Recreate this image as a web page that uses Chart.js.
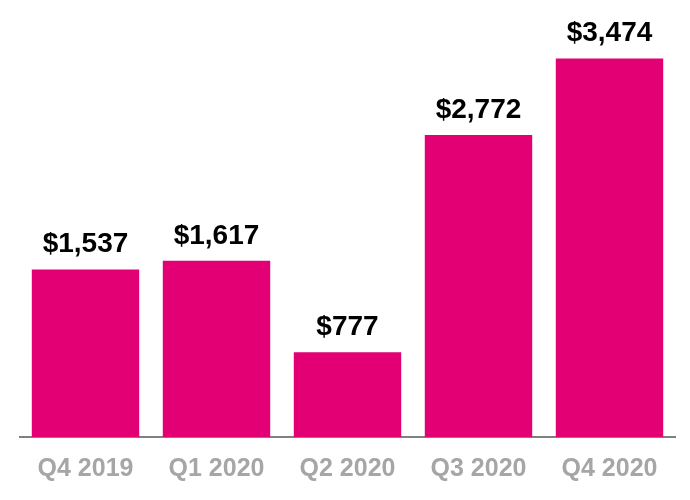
<!DOCTYPE html>
<html>
<head>
<meta charset="utf-8">
<script src="https://cdn.jsdelivr.net/npm/chart.js@4"></script>
<style>
  body { margin: 0; background: #fff; }
  #wrap { width: 690px; height: 500px; }
</style>
</head>
<body>
<div id="wrap"><canvas id="myChart" width="690" height="500"></canvas></div>
<script>
const quarters = ['Q4 2019', 'Q1 2020', 'Q2 2020', 'Q3 2020', 'Q4 2020'];
const values = [1537, 1617, 777, 2772, 3474];
const valueLabels = ['$1,537', '$1,617', '$777', '$2,772', '$3,474'];

// draws the $ amounts above each bar
const barLabels = {
    id: 'barLabels',
    afterDatasetsDraw(chart) {
        const ctx = chart.ctx;
        const meta = chart.getDatasetMeta(0);
        ctx.save();
        ctx.fillStyle = '#000';
        ctx.font = 'bold 28px "Liberation Sans", Arial, sans-serif';
        ctx.textAlign = 'center';
        ctx.textBaseline = 'bottom';
        meta.data.forEach((bar, i) => {
            ctx.fillText(valueLabels[i], bar.x, bar.y - 11);
        });
        ctx.restore();
    }
};

const ctx = document.getElementById('myChart').getContext('2d');
const myChart = new Chart(ctx, {
    type: 'bar',
    data: {
        labels: quarters,
        datasets: [{
            data: values,
            backgroundColor: '#E20074',
            barPercentage: 0.82,
            categoryPercentage: 1
        }]
    },
    options: {
        responsive: false,
        animation: false,
        layout: { padding: { left: 20, right: 15, top: 23, bottom: 7 } },
        plugins: { legend: { display: false }, tooltip: { enabled: false } },
        scales: {
            x: {
                grid: { display: false },
                border: { color: '#808080', width: 2 },
                ticks: {
                    color: '#A6A6A6',
                    padding: 9,
                    font: { family: '"Liberation Sans", Arial, sans-serif', size: 25, weight: 'bold' }
                }
            },
            y: {
                display: false,
                min: 0,
                max: 3800
            }
        }
    },
    plugins: [barLabels]
});
</script>
</body>
</html>
